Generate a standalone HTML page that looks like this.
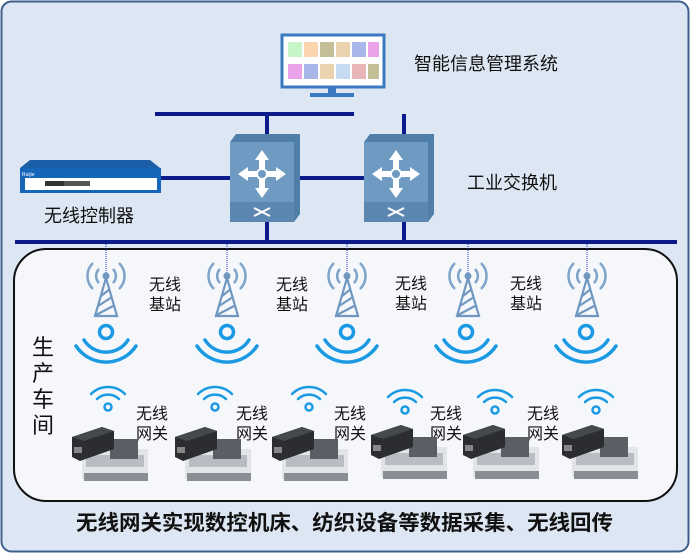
<!DOCTYPE html>
<html><head><meta charset="utf-8"><style>
body{margin:0;width:691px;height:554px;overflow:hidden;background:#fff}
svg text{font-family:"Liberation Sans","Noto Sans CJK SC",sans-serif}
</style></head><body>
<svg width="691" height="554" viewBox="0 0 691 554" xmlns="http://www.w3.org/2000/svg">
<defs>
<g id="tower">
 <path d="M-7,-7 A10,10 0 0 0 -7,7 M7,-7 A10,10 0 0 1 7,7 M-13,-13 A18,18 0 0 0 -13,13 M13,-13 A18,18 0 0 1 13,13" fill="none" stroke="#7da3c8" stroke-width="2.5"/>
 <circle r="3.5" fill="#6f97c0"/>
 <path d="M0,2 L-11,40 L11,40 Z M-8,30 L6,21 M-5,20 L4,13 M-10,39 L9,29" fill="none" stroke="#6f97c0" stroke-width="2.2"/>
</g>
<g id="bigwifi">
 <circle r="6.5" fill="none" stroke="#1b9ae4" stroke-width="3.5"/>
 <path d="M-22,8 A26,26 0 0 0 22,8 M-30,14 A36,36 0 0 0 30,14" fill="none" stroke="#1b9ae4" stroke-width="3.5" stroke-linecap="round"/>
</g>
<g id="smwifi">
 <circle r="3.5" fill="none" stroke="#1b9ae4" stroke-width="2.5"/>
 <path d="M-11,-8 A16,16 0 0 1 11,-8 M-17,-13 A24,24 0 0 1 17,-13" fill="none" stroke="#1b9ae4" stroke-width="2.5" stroke-linecap="round"/>
</g>
<g id="gw">
 <rect x="10" y="22" width="66" height="30" fill="#e2e4e8"/>
 <rect x="14" y="28" width="58" height="12" fill="#b9bcc2"/>
 <rect x="38" y="12" width="28" height="20" fill="#5b5e64"/>
 <rect x="12" y="46" width="64" height="8" fill="#8a8d93"/>
 <path d="M0,10 L30,0 L42,4 L42,22 L8,34 L0,30 Z" fill="#2b2d31"/>
 <path d="M0,10 L30,0 L42,4 L12,14 Z" fill="#45484d"/>
 <rect x="2" y="20" width="8" height="6" fill="#888"/>
</g>
<g id="sw">
 <path d="M6,0 L70,0 L70,80 L64,88 L0,88 L0,8 Z" fill="#4f7ea8"/>
 <rect x="0" y="8" width="64" height="80" fill="#6f9bc3"/>
 <rect x="0" y="68" width="64" height="20" fill="#5b87b0"/>
 <path d="M32,22 L32,58 M14,40 L50,40" stroke="#fff" stroke-width="6"/>
 <path d="M32,16 L25,26 L39,26 Z M32,64 L25,54 L39,54 Z M8,40 L18,33 L18,47 Z M56,40 L46,33 L46,47 Z" fill="#fff"/>
 <circle cx="32" cy="40" r="5" fill="#6f9bc3" stroke="#fff" stroke-width="2"/>
 <path d="M24,74 L40,82 M24,82 L40,74" stroke="#fff" stroke-width="2"/>
</g>
</defs>
<rect x="1.5" y="1.5" width="687" height="550" rx="10" fill="#dde7f3" stroke="#3e5f8c" stroke-width="2"/>
<rect x="282" y="35" width="102" height="52" fill="#fff" stroke="#3a78c0" stroke-width="3"/>
<g>
<rect x="288" y="42" width="14" height="15" fill="#c8f5c8"/><rect x="304" y="42" width="14" height="15" fill="#fcd5b0"/><rect x="320" y="42" width="14" height="15" fill="#c4bf96"/><rect x="336" y="42" width="14" height="15" fill="#ecd3b0"/><rect x="352" y="42" width="14" height="15" fill="#a9b6e8"/><rect x="368" y="42" width="11" height="15" fill="#eaa3ea"/>
<rect x="288" y="64" width="14" height="15" fill="#eaa3ea"/><rect x="304" y="64" width="14" height="15" fill="#a9b6e8"/><rect x="320" y="64" width="14" height="15" fill="#ecd3b0"/><rect x="336" y="64" width="14" height="15" fill="#c6daf2"/><rect x="352" y="64" width="14" height="15" fill="#e8b6b6"/><rect x="368" y="64" width="11" height="15" fill="#c4bf96"/>
</g>
<rect x="328" y="88" width="8" height="6" fill="#3a78c0"/>
<rect x="310" y="93" width="44" height="4" fill="#3a78c0"/>
<text x="414" y="70" font-size="18" fill="#111">智能信息管理系统</text>
<rect x="155" y="112" width="199" height="4" fill="#0b1b8a"/>
<rect x="265" y="114" width="4" height="128" fill="#0b1b8a"/>
<rect x="402" y="114" width="4" height="128" fill="#0b1b8a"/>
<rect x="160" y="176" width="240" height="4" fill="#0b1b8a"/>
<rect x="15" y="240" width="662" height="4" fill="#0b1b8a"/>
<use href="#sw" x="230" y="134"/>
<use href="#sw" x="364" y="134"/>
<text x="467" y="189" font-size="18" fill="#111">工业交换机</text>
<path d="M20,168 L30,160 L150,160 L160,168 Z" fill="#1a5fa8"/>
<rect x="20" y="168" width="141" height="25" fill="#1565b8"/>
<rect x="25" y="178" width="132" height="12" fill="#fff"/>
<text x="22" y="176" font-size="5" fill="#fff">Ruijie</text>
<rect x="45" y="181" width="45" height="5" fill="#333"/><rect x="64" y="181" width="26" height="5" fill="#555"/>
<text x="44" y="222" font-size="18" fill="#111">无线控制器</text>
<rect x="14" y="249" width="663" height="252" rx="32" fill="#f6f7fb" stroke="#111" stroke-width="2"/>
<g stroke="#2233cc" stroke-width="1" stroke-dasharray="1,1">
<line x1="106" y1="244" x2="106" y2="280"/><line x1="227" y1="244" x2="227" y2="280"/><line x1="347" y1="244" x2="347" y2="280"/><line x1="468" y1="244" x2="468" y2="280"/><line x1="587" y1="244" x2="587" y2="280"/>
</g>
<use href="#tower" x="106" y="276"/><use href="#tower" x="227" y="276"/><use href="#tower" x="347" y="276"/><use href="#tower" x="468" y="276"/><use href="#tower" x="587" y="276"/>
<use href="#bigwifi" x="106" y="332"/><use href="#bigwifi" x="227" y="332"/><use href="#bigwifi" x="347" y="332"/><use href="#bigwifi" x="466" y="332"/><use href="#bigwifi" x="586" y="332"/>
<g font-size="16" fill="#111">
<text x="149" y="290">无线</text><text x="149" y="310">基站</text>
<text x="276" y="290">无线</text><text x="276" y="310">基站</text>
<text x="395" y="289">无线</text><text x="395" y="309">基站</text>
<text x="510" y="289">无线</text><text x="510" y="309">基站</text>
<text x="136" y="419">无线</text><text x="136" y="439">网关</text>
<text x="236" y="419">无线</text><text x="236" y="439">网关</text>
<text x="334" y="419">无线</text><text x="334" y="439">网关</text>
<text x="430" y="419">无线</text><text x="430" y="439">网关</text>
<text x="527" y="419">无线</text><text x="527" y="439">网关</text>
</g>
<g font-size="22" fill="#111">
<text x="32" y="355">生</text><text x="32" y="381">产</text><text x="32" y="407">车</text><text x="32" y="433">间</text>
</g>
<use href="#smwifi" x="108" y="407"/><use href="#smwifi" x="215" y="407"/><use href="#smwifi" x="309" y="407"/><use href="#smwifi" x="405" y="410"/><use href="#smwifi" x="495" y="410"/><use href="#smwifi" x="596" y="410"/>
<use href="#gw" x="72" y="427"/><use href="#gw" x="175" y="427"/><use href="#gw" x="272" y="427"/><use href="#gw" x="371" y="425"/><use href="#gw" x="463" y="425"/><use href="#gw" x="562" y="425"/>
<text x="76" y="530" font-size="21" font-weight="bold" textLength="537" lengthAdjust="spacingAndGlyphs" fill="#111">无线网关实现数控机床、纺织设备等数据采集、无线回传</text>
</svg>
</body></html>
